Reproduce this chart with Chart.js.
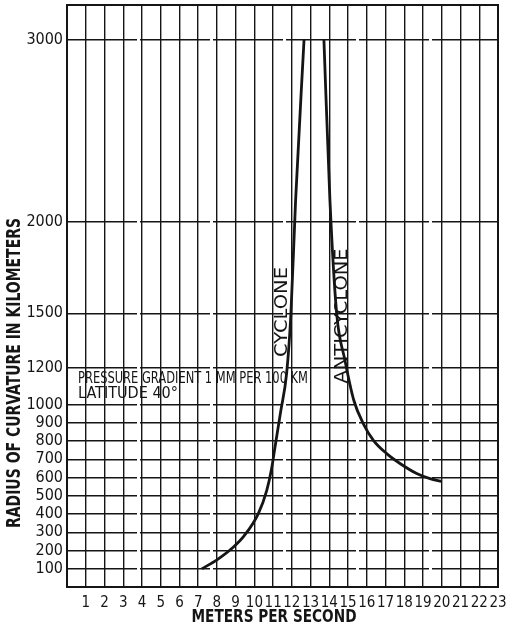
<!DOCTYPE html>
<html>
<head>
<meta charset="utf-8">
<script src="https://cdn.jsdelivr.net/npm/chart.js@4/dist/chart.umd.min.js"></script>
<style>
  html, body { margin: 0; padding: 0; background: #fff; }
  #wrap { width: 507px; height: 630px; }
</style>
</head>
<body>
<div id="wrap"><canvas id="c" width="507" height="630"></canvas></div>
<script>
// Wind speed (m/s) against radius of curvature (km), gradient 1 mm per 100 km, latitude 40°
const cycloneSpeed  = [7.2, 8.0, 8.87, 9.45, 10.21, 10.66, 10.92, 11.12, 11.40, 11.72, 11.95, 12.2, 12.65];
const cycloneRadius = [100, 149, 218, 280, 402, 530, 650, 780, 960, 1171, 1500, 2122, 3000];

const anticycloneSpeed  = [13.71, 14.03, 14.39, 14.83, 15.3, 15.81, 16.35, 17.06, 17.77, 18.66, 19.37, 20.0];
const anticycloneRadius = [3000, 2122, 1500, 1244, 1025, 896, 804, 731, 677, 622, 594, 579];

const radiusTicks = [100, 200, 300, 400, 500, 600, 700, 800, 900, 1000, 1200, 1500, 2000, 3000];
const speedTicks  = [1, 2, 3, 4, 5, 6, 7, 8, 9, 10, 11, 12, 13, 14, 15, 16, 17, 18, 19, 20, 21, 22, 23];

const pts = (xs, ys) => xs.map((x, i) => ({ x, y: ys[i] }));

const INK = '#151515';

// draws a text squeezed/stretched to a given width, centred on (cx, cy)
function fitText(ctx, text, cx, cy, width, font, rot) {
  ctx.save();
  ctx.font = font;
  const w = ctx.measureText(text).width;
  ctx.translate(cx, cy);
  if (rot) ctx.rotate(rot);
  ctx.scale(width / w, 1);
  ctx.textAlign = 'center';
  ctx.textBaseline = 'middle';
  ctx.fillStyle = INK;
  ctx.fillText(text, 0, 0);
  ctx.restore();
}

const decor = {
  id: 'decor',
  beforeDraw(chart) {
    const ctx = chart.ctx;
    ctx.save();
    ctx.fillStyle = '#fff';
    ctx.fillRect(0, 0, chart.width, chart.height);
    ctx.restore();
  },
  afterDraw(chart) {
    const ctx = chart.ctx;
    const a = chart.chartArea;
    ctx.save();
    ctx.strokeStyle = INK;
    ctx.lineWidth = 2;
    ctx.strokeRect(a.left, a.top, a.right - a.left, a.bottom - a.top);
    ctx.restore();

    const bold = (s) => 'bold ' + s + 'px "DejaVu Sans Condensed", "DejaVu Sans", sans-serif';
    const reg = (s) => s + 'px "DejaVu Sans Condensed", "DejaVu Sans", sans-serif';

    fitText(ctx, 'RADIUS OF CURVATURE IN KILOMETERS', 15, 373, 310, bold(19), -Math.PI / 2);
    fitText(ctx, 'METERS PER SECOND', 274, 618, 165, bold(17));

    fitText(ctx, 'PRESSURE GRADIENT 1 MM PER 100 KM', 193, 379, 230, reg(16));
    fitText(ctx, 'LATITUDE 40°', 128, 394, 100, reg(16));
    fitText(ctx, 'CYCLONE', 283, 312, 90, reg(17), -Math.PI / 2);
    fitText(ctx, 'ANTICYCLONE', 343, 316, 135, reg(17), -Math.PI / 2);
  }
};

new Chart(document.getElementById('c'), {
  type: 'scatter',
  data: {
    datasets: [
      { label: 'Cyclone', data: pts(cycloneSpeed, cycloneRadius) },
      { label: 'Anticyclone', data: pts(anticycloneSpeed, anticycloneRadius) }
    ]
  },
  options: {
    responsive: false,
    animation: false,
    devicePixelRatio: 1,
    layout: { padding: { top: 5, right: 9, left: 0, bottom: 0 } },
    elements: {
      line: { borderColor: INK, borderWidth: 2.8, cubicInterpolationMode: 'monotone', fill: false },
      point: { radius: 0, hoverRadius: 0 }
    },
    datasets: { scatter: { showLine: true } },
    plugins: { legend: { display: false }, tooltip: { enabled: false } },
    scales: {
      x: {
        type: 'linear', min: 0, max: 23,
        afterFit(s) { s.height = 43; s.paddingLeft = 0; s.paddingRight = 0; },
        afterBuildTicks(s) { s.ticks = speedTicks.map(v => ({ value: v })); },
        grid: { color: INK, lineWidth: 1.4, drawTicks: false },
        border: { display: false },
        ticks: {
          padding: 7, color: INK, maxRotation: 0, autoSkip: false,
          callback: (v) => String(v),
          font: { family: '"Liberation Sans Narrow", "DejaVu Sans Condensed", sans-serif', size: 15 }
        }
      },
      y: {
        type: 'linear', min: 0, max: 3190,
        afterFit(s) { s.width = 67; s.paddingTop = 0; s.paddingBottom = 0; },
        afterBuildTicks(s) { s.ticks = radiusTicks.map(v => ({ value: v })); },
        grid: { color: INK, lineWidth: 1.4, drawTicks: false },
        border: { display: false, dash: [70, 3] },
        ticks: {
          padding: 4, color: INK, autoSkip: false,
          callback: (v) => String(v),
          font: { family: '"DejaVu Sans Condensed", "DejaVu Sans", sans-serif', size: 16 }
        }
      }
    }
  },
  plugins: [decor]
});
</script>
</body>
</html>
